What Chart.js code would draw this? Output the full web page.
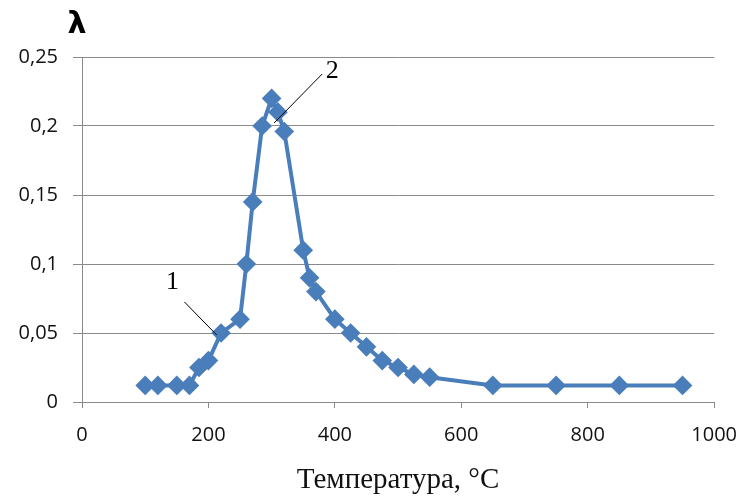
<!DOCTYPE html>
<html>
<head>
<meta charset="utf-8">
<script src="https://cdn.jsdelivr.net/npm/chart.js@4.4.1/dist/chart.umd.min.js"></script>
<style>
  html, body { margin: 0; padding: 0; background: #fff; }
  #wrap { width: 752px; height: 501px; }
</style>
</head>
<body>
<div id="wrap"><canvas id="lambdaChart"></canvas></div>
<script>
// temperature, °C
const temps = [100, 120, 150, 170, 185, 200, 220, 250, 260, 270, 285, 300, 310, 320,
  350, 360, 370, 400, 425, 450, 475, 500, 525, 550, 650, 750, 850, 950]
// lambda
const lambdas = [0.012, 0.012, 0.012, 0.012, 0.025, 0.03, 0.05, 0.06, 0.1, 0.145, 0.2, 0.22, 0.21, 0.196,
  0.11, 0.09, 0.08, 0.06, 0.05, 0.04, 0.03, 0.025, 0.02, 0.018, 0.012, 0.012, 0.012, 0.012]
const xTicks = [0, 200, 400, 600, 800, 1000]
const yTicks = [0, 0.05, 0.1, 0.15, 0.2, 0.25]

let points = temps.map((t, i) => ({x: t, y: lambdas[i]}))

// numbered callouts: text spot and leader line, in data units
const callouts = [
  {text: "1", at: [143, 0.087], from: [162, 0.0725], to: [213, 0.0486]},
  {text: "2", at: [396, 0.240], from: [380, 0.2377], to: [304, 0.2022]},
]

const calloutPlugin = {
  id: "callouts",
  afterDatasetsDraw(chart) {
    let ctx = chart.ctx
    let xs = chart.scales.x, ys = chart.scales.y
    ctx.save()
    ctx.strokeStyle = "#000"
    ctx.lineWidth = 1
    ctx.fillStyle = "#000"
    ctx.font = "26px 'Liberation Serif'"
    ctx.textAlign = "center"
    ctx.textBaseline = "middle"
    callouts.forEach(c => {
      ctx.beginPath()
      ctx.moveTo(xs.getPixelForValue(c.from[0]), ys.getPixelForValue(c.from[1]))
      ctx.lineTo(xs.getPixelForValue(c.to[0]), ys.getPixelForValue(c.to[1]))
      ctx.stroke()
      ctx.fillText(c.text, xs.getPixelForValue(c.at[0]), ys.getPixelForValue(c.at[1]))
    })
    // axis symbol above the y axis
    ctx.font = "bold 30px 'DejaVu Sans'"
    ctx.fillText("λ", chart.chartArea.left - 5, chart.chartArea.top - 32)
    ctx.restore()
  }
}

let chartEle = document.getElementById('lambdaChart').getContext("2d")

let chart = new Chart(chartEle, {
  type: "scatter",
  data: {
    datasets: [
      {
        data: points,
        showLine: true,
        borderColor: "#4a7ebb",
        backgroundColor: "#4a7ebb",
        borderWidth: 4,
        pointStyle: "rectRot",
        pointRadius: 7,
        pointHoverRadius: 7,
        tension: 0,
      },
    ],
  },
  options: {
    responsive: true,
    maintainAspectRatio: false,
    animation: false,
    layout: {padding: {top: 57, right: 33, bottom: 0, left: 0}},
    plugins: {
      legend: {display: false},
      tooltip: {enabled: false},
    },
    scales: {
      x: {
        type: "linear",
        min: 0,
        max: 1000,
        afterBuildTicks: (scale) => { scale.ticks = xTicks.map(v => ({value: v})) },
        afterFit: (scale) => { scale.height = 99 },
        grid: {drawOnChartArea: false, color: "#8a8a8a", tickLength: 6},
        border: {color: "#8a8a8a", width: 1},
        ticks: {
          padding: 15,
          color: "#111",
          font: {family: "'Open Sans'", size: 20},
          callback: (v) => String(v),
        },
        title: {
          display: true,
          text: "Температура, °C",
          color: "#111",
          font: {family: "'Liberation Serif'", size: 29},
          padding: {top: 0, bottom: 3},
        },
      },
      y: {
        min: 0,
        max: 0.25,
        afterBuildTicks: (scale) => { scale.ticks = yTicks.map(v => ({value: v})) },
        afterFit: (scale) => { scale.width = 82 },
        grid: {color: "#8a8a8a", tickLength: 9},
        border: {color: "#8a8a8a", width: 1},
        ticks: {
          padding: 15,
          color: "#111",
          font: {family: "'Open Sans'", size: 20},
          callback: (v) => String(+v.toFixed(2)).replace(".", ","),
        },
      },
    },
  },
  plugins: [calloutPlugin],
})
</script>
</body>
</html>
